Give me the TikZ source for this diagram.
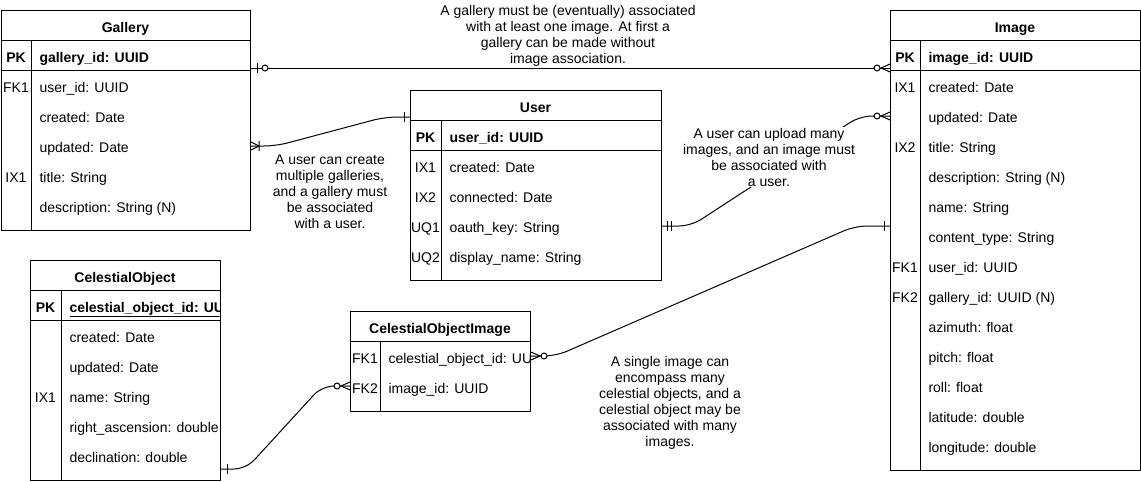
\documentclass[tikz,border=0pt]{standalone}
\usepackage{fontspec}
\setmainfont{Liberation Sans}
\usetikzlibrary{calc,positioning}

\newcommand{\erfont}{\fontsize{14}{16}\selectfont}

\tikzset{
  erbox/.style={draw, anchor=north west, inner sep=0pt},
  ertext/.style={inner sep=0pt, text height=15pt, text depth=1pt},
  ertitle/.style={ertext, font=\erfont\bfseries},
  erkey/.style={ertext},
  erfield/.style={ertext, anchor=west},
  erlink/.style={rounded corners=12pt},
  ernote/.style={align=center, fill=white, inner sep=1pt},
  pics/one/.style={code={\draw (6,-5) -- (6,5);}},
  pics/onlyone/.style={code={\draw (5,-5) -- (5,5) (9,-5) -- (9,5);}},
  pics/onemany/.style={code={\draw (0,-4) -- (8,0) -- (0,4) (8,-5) -- (8,5);}},
  pics/zeroone/.style={code={\draw (6,-5) -- (6,5); \draw[fill=white] (14,0) circle[radius=3pt];}},
  pics/zeromany/.style={code={\draw (0,-4) -- (9,0) -- (0,4); \draw[fill=white] (13,0) circle[radius=3pt];}},
}

\begin{document}
\begin{tikzpicture}[x=1pt,y=-1pt,line width=1pt,font=\erfont]
\useasboundingbox (0,0) rectangle (1141,482);

% Gallery
\node[erbox, minimum width=249pt, minimum height=220pt] (gallery) at (1,10) {};
\draw (1,40) -- (250,40) (1,70) -- (250,70) (31,40) -- (31,230);
\node[ertitle] (gallery-title) at (125.5,25) {Gallery};
\node[erkey, ertitle] (gallery-k0) at (16,55) {PK};
\node[erfield, ertitle] (gallery-0) at (39,55) {gallery\_id: UUID};
\foreach \k/\f [count=\i] in {FK1/user\_id: UUID, /created: Date, /updated: Date,
    IX1/title: String, /description: String (N)}
{
    \node[erkey] (gallery-k\i) at (16,55+30*\i) {\k};
    \node[erfield] (gallery-\i) at (39,55+30*\i) {\f};
};

% User
\node[erbox, minimum width=251pt, minimum height=190pt] (user) at (410,90) {};
\draw (410,120) -- (661,120) (410,150) -- (661,150) (441,120) -- (441,280);
\node[ertitle] (user-title) at (535.5,105) {User};
\node[erkey, ertitle] (user-k0) at (425.5,135) {PK};
\node[erfield, ertitle] (user-0) at (449,135) {user\_id: UUID};
\foreach \k/\f [count=\i] in {IX1/created: Date, IX2/connected: Date,
    UQ1/oauth\_key: String, UQ2/display\_name: String}
{
    \node[erkey] (user-k\i) at (425.5,135+30*\i) {\k};
    \node[erfield] (user-\i) at (449,135+30*\i) {\f};
};

% Image
\node[erbox, minimum width=250pt, minimum height=460pt] (image) at (890,10) {};
\draw (890,40) -- (1140,40) (890,70) -- (1140,70) (920,40) -- (920,470);
\node[ertitle] (image-title) at (1015,25) {Image};
\node[erkey, ertitle] (image-k0) at (905,55) {PK};
\node[erfield, ertitle] (image-0) at (928,55) {image\_id: UUID};
\foreach \k/\f [count=\i] in {IX1/created: Date, /updated: Date, IX2/title: String,
    /description: String (N), /name: String, /content\_type: String,
    FK1/user\_id: UUID, FK2/gallery\_id: UUID (N), /azimuth: float,
    /pitch: float, /roll: float, /latitude: double, /longitude: double}
{
    \node[erkey] (image-k\i) at (905,55+30*\i) {\k};
    \node[erfield] (image-\i) at (928,55+30*\i) {\f};
};

% CelestialObject
\node[erbox, minimum width=190pt, minimum height=220pt] (celestialObject) at (30,260) {};
\draw (30,290) -- (220,290) (30,320) -- (220,320) (61,290) -- (61,480);
\node[ertitle] (celestialObject-title) at (125,275) {CelestialObject};
\node[erkey, ertitle] (celestialObject-k0) at (45.5,305) {PK};
\begin{scope}
\clip (61,291) rectangle (219.5,319);
\node[erfield, ertitle] (celestialObject-0) at (69,305) {\underline{celestial\_object\_id: UU}};
\end{scope}
\foreach \k/\f [count=\i] in {/created: Date, /updated: Date, IX1/name: String,
    /right\_ascension: double, /declination: double}
{
    \node[erkey] (celestialObject-k\i) at (45.5,305+30*\i) {\k};
    \node[erfield] (celestialObject-\i) at (69,305+30*\i) {\f};
};

% CelestialObjectImage
\node[erbox, minimum width=180pt, minimum height=100pt] (celestialObjectImage) at (350,311) {};
\draw (350,341) -- (530,341) (380,341) -- (380,411);
\node[ertitle] (celestialObjectImage-title) at (440,326) {CelestialObjectImage};
\foreach \k/\f [count=\i] in {FK1/celestial\_object\_id: UU, FK2/image\_id: UUID}
{
    \node[erkey] (celestialObjectImage-k\i) at (365,326+30*\i) {\k};
    \node[erfield] (celestialObjectImage-\i) at (388,326+30*\i) {\f};
};

% relation ends
\coordinate (galleryImgA) at ($(gallery.north east)+(0,58)$);
\coordinate (galleryImgB) at ($(image.north west)+(0,58)$);
\coordinate (galleryUserA) at ($(gallery.north east)+(0,136)$);
\coordinate (galleryUserB) at ($(user.north west)+(0,27)$);
\coordinate (userImgA) at ($(user.north east)+(0,136)$);
\coordinate (userImgB) at ($(image.north west)+(0,106)$);
\coordinate (coiImgA) at ($(celestialObjectImage.north east)+(0,45)$);
\coordinate (coiImgB) at ($(image.north west)+(0,216)$);
\coordinate (coCoiA) at ($(celestialObject.south east)+(0,-12)$);
\coordinate (coCoiB) at ($(celestialObjectImage.north west)+(0,75)$);

\draw[erlink] (galleryImgA) -- (galleryImgB);
\draw[erlink] (galleryUserA) -- ++(25,0) -- ($(galleryUserB)+(-25,0)$) -- (galleryUserB);
\draw[erlink] (userImgA) -- ++(29,0) -- ($(userImgB)+(-30,0)$) -- (userImgB);
\draw[erlink] (coiImgA) -- ++(25,0) -- ($(coiImgB)+(-35,0)$) -- (coiImgB);
\draw[erlink] (coCoiA) -- ++(25,0) -- ($(coCoiB)+(-28,0)$) -- (coCoiB);

\pic at (galleryImgA) {zeroone};
\pic[xscale=-1] at (galleryImgB) {zeromany};
\pic at (galleryUserA) {onemany};
\pic[xscale=-1] at (galleryUserB) {one};
\pic at (userImgA) {onlyone};
\pic[xscale=-1] at (userImgB) {zeromany};
\pic at (coiImgA) {zeromany};
\pic[xscale=-1] at (coiImgB) {one};
\pic at (coCoiA) {one};
\pic[xscale=-1] at (coCoiB) {zeromany};

% notes
\node[ernote] (noteGalleryImage) at (568,36) {A gallery must be (eventually) associated\\with at least one image. At first a\\gallery can be made without\\image association.};
\node[ernote] (noteGalleryUser) at (330,192) {A user can create\\multiple galleries,\\and a gallery must\\be associated\\with a user.};
\node[ernote] (noteUserImage) at (769,157) {A user can upload many\\images, and an image must\\be associated with\\a user.};
\node[ernote] (noteCoiImage) at (670,403) {A single image can\\encompass many\\celestial objects, and a\\celestial object may be\\associated with many\\images.};

\end{tikzpicture}
\end{document}
